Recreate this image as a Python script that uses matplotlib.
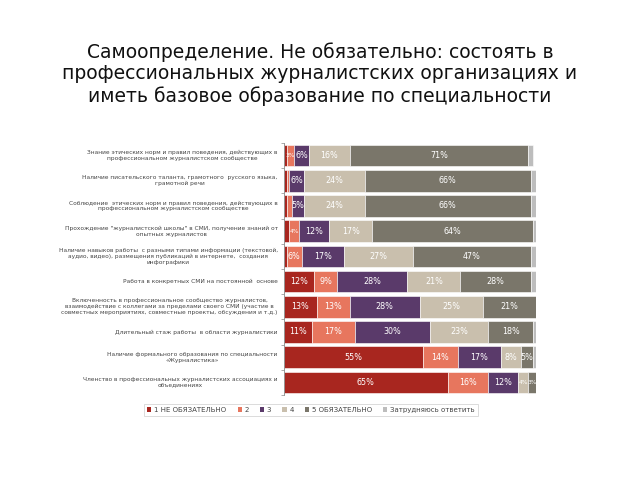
import matplotlib
matplotlib.use("Agg")
import matplotlib.pyplot as plt
from matplotlib.patches import Patch

categories = [
    "Знание этических норм и правил поведения, действующих в\nпрофессиональном журналистском сообществе",
    "Наличие писательского таланта, грамотного  русского языка,\nграмотной речи",
    "Соблюдение  этических норм и правил поведения, действующих в\nпрофессиональном журналистском сообществе",
    "Прохождение \"журналистской школы\" в СМИ, получение знаний от\nопытных журналистов",
    "Наличие навыков работы  с разными типами информации (текстовой,\nаудио, видео), размещения публикаций в интернете,  создания\nинфографики",
    "Работа в конкретных СМИ на постоянной  основе",
    "Включенность в профессиональное сообщество журналистов,\nвзаимодействие с коллегами за пределами своего СМИ (участие в\nсовместных мероприятиях, совместные проекты, обсуждения и т.д.)",
    "Длительный стаж работы  в области журналистики",
    "Наличие формального образования по специальности\n«Журналистика»",
    "Членство в профессиональных журналистских ассоциациях и\nобъединениях",
]

s1 = [1, 1, 1, 2, 1, 12, 13, 11, 55, 65]
s2 = [3, 1, 2, 4, 6, 9, 13, 17, 14, 16]
s3 = [6, 6, 5, 12, 17, 28, 28, 30, 17, 12]
s4 = [16, 24, 24, 17, 27, 21, 25, 23, 8, 4]
s5 = [71, 66, 66, 64, 47, 28, 21, 18, 5, 3]
s6 = [2, 2, 2, 1, 2, 2, 0, 1, 1, 0]

series = [s1, s2, s3, s4, s5, s6]
series_names = ["1 НЕ ОБЯЗАТЕЛЬНО", "2", "3", "4", "5 ОБЯЗАТЕЛЬНО", "Затрудняюсь ответить"]
colors = ["#A8261F", "#E7765E", "#5A3A6A", "#C9BFAD", "#7A766A", "#BDBDBD"]

fig = plt.figure(figsize=(6.4, 4.8), dpi=100)
fig.text(0.5, 1 - 74/480,
         "Самоопределение. Не обязательно: состоять в\nпрофессиональных журналистских организациях и\nиметь базовое образование по специальности",
         ha="center", va="center", fontsize=13.5, linespacing=1.17, color="#111111")

ax = fig.add_axes([284/640, 1 - 395/480, 252/640, 252/480])
y = list(range(len(categories)))
left = [0] * len(categories)
for vals, col in zip(series, colors):
    ax.barh(y, vals, left=left, height=0.86, color=col, edgecolor="white", linewidth=0.4)
    if col != colors[-1]:
        for i, v in enumerate(vals):
            if v >= 3:
                fs = 5.8 if v >= 5 else 4.2
                ax.text(left[i] + v / 2, i, f"{v}%", ha="center", va="center",
                        fontsize=fs, color="white")
    left = [l + v for l, v in zip(left, vals)]

ax.set_xlim(0, 100)
ax.set_ylim(len(categories) - 0.5, -0.5)
ax.set_xticks([])
ax.set_yticks([i - 0.5 for i in range(len(categories) + 1)])
ax.set_yticklabels([])
ax.tick_params(axis="y", length=2, width=0.5, color="#888888")
for sp in ["top", "right", "bottom"]:
    ax.spines[sp].set_visible(False)
ax.spines["left"].set_color("#888888")
ax.spines["left"].set_linewidth(0.6)

for i, c in enumerate(categories):
    ax.text(-2.5, i, c, ha="right", va="center", fontsize=4.2, color="#444444",
            multialignment="center", transform=ax.transData)

handles = [Patch(facecolor=c, edgecolor="none") for c in colors]
leg = fig.legend(handles, series_names, loc="center", bbox_to_anchor=(311/640, 1 - 410/480),
                 ncol=6, fontsize=5, frameon=True, handlelength=0.6, handleheight=0.6,
                 handletextpad=0.4, columnspacing=1.6, borderpad=0.5, fancybox=False)
leg.get_frame().set_edgecolor("#cccccc")
leg.get_frame().set_linewidth(0.6)
for t in leg.get_texts():
    t.set_color("#444444")

fig.savefig("out.png", dpi=100)
